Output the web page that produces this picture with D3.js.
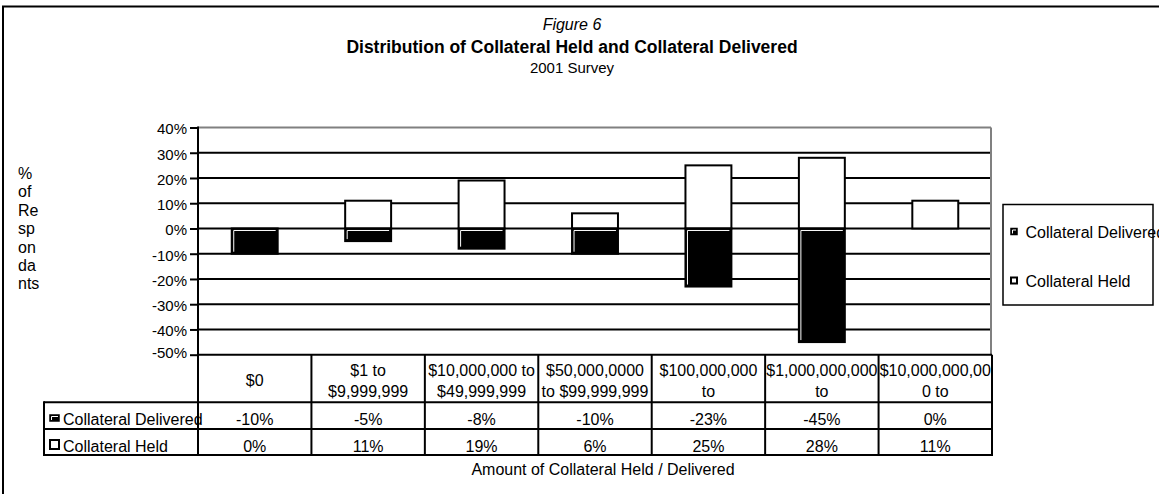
<!DOCTYPE html>
<html>
<head>
<meta charset="utf-8">
<script src="https://cdn.jsdelivr.net/npm/d3@7"></script>
<style>
  html, body { margin: 0; padding: 0; background: #fff; }
  svg { display: block; font-family: "Liberation Sans", Arial, sans-serif; }
</style>
</head>
<body>
<svg id="chart" width="1159" height="494"></svg>
<script>
// Amount bands (header lines as wrapped in the data table)
const categories = ["$0", "$1-$9,999,999", "$10M-$49,999,999", "$50M-$99,999,999",
                    "$100M+", "$1B+", "$10B+"];
const categoryLines = [
  ["$0"],
  ["$1 to", "$9,999,999"],
  ["$10,000,000 to", "$49,999,999"],
  ["$50,000,0000", "to $99,999,999"],
  ["$100,000,000", "to"],
  ["$1,000,000,000", "to"],
  ["$10,000,000,00", "0 to"]
];
const seriesNames = ["Collateral Delivered", "Collateral Held"];
const delivered = [-10, -5, -8, -10, -23, -45, 0];
const held = [0, 11, 19, 6, 25, 28, 11];
const yTicks = [40, 30, 20, 10, 0, -10, -20, -30, -40, -50];
const yTitleLines = ["%", "of", "Re", "sp", "on", "da", "nts"];

const svg = d3.select("#chart");

// outer frame
svg.append("rect")
  .attr("x", 3).attr("y", 6.5).attr("width", 1200).attr("height", 600)
  .attr("fill", "none").attr("stroke", "#000").attr("stroke-width", 2);

// titles
const cx = 572;
svg.append("text").attr("x", cx).attr("y", 30).attr("text-anchor", "middle")
  .attr("font-size", 16).attr("font-style", "italic").text("Figure 6");
svg.append("text").attr("x", cx).attr("y", 53).attr("text-anchor", "middle")
  .attr("font-size", 17.5).attr("font-weight", "bold")
  .text("Distribution of Collateral Held and Collateral Delivered");
svg.append("text").attr("x", cx).attr("y", 73).attr("text-anchor", "middle")
  .attr("font-size", 15).text("2001 Survey");

// scales
const left = 198, right = 992;
const x = d3.scaleBand().domain(categories).range([left, right]);
const y = d3.scaleLinear().domain([-50, 40]).range([354.7, 127.5]);
const barW = x.bandwidth() * 0.405;
const barX = i => x(categories[i]) + (x.bandwidth() - barW) / 2;

// gridlines
svg.append("g").selectAll("line").data(yTicks.filter(t => t > -50)).join("line")
  .attr("x1", left).attr("x2", right - 1)
  .attr("y1", d => y(d)).attr("y2", d => y(d))
  .attr("stroke", d => d === 40 ? "#808080" : "#000")
  .attr("stroke-width", 2);
// right plot edge
svg.append("line").attr("x1", right - 1).attr("x2", right - 1)
  .attr("y1", y(40)).attr("y2", y(-50))
  .attr("stroke", "#808080").attr("stroke-width", 2);

// held bars (positive stack)
svg.append("g").selectAll("rect").data(held).join("rect")
  .attr("x", (d, i) => barX(i))
  .attr("y", d => y(Math.max(d, 0)))
  .attr("width", barW)
  .attr("height", d => Math.abs(y(0) - y(d)))
  .attr("fill", "#fff")
  .attr("stroke", "#000").attr("stroke-width", d => d === 0 ? 0 : 2);

// delivered bars (negative stack)
const dg = svg.append("g");
dg.selectAll("rect").data(delivered).join("rect")
  .attr("x", (d, i) => barX(i))
  .attr("y", y(0))
  .attr("width", barW)
  .attr("height", d => y(d) - y(0))
  .attr("fill", "#000")
  .attr("stroke", "#000").attr("stroke-width", d => d === 0 ? 0 : 2);
dg.selectAll("path")
  .data(delivered.map((d, i) => ({ d, i })).filter(o => o.d !== 0))
  .join("path")
  .attr("d", o => {
    const x0 = barX(o.i);
    return `M${x0 + 2},${y(o.d) - 2}V${y(0) + 2}H${x0 + barW - 2}`;
  })
  .attr("fill", "none").attr("stroke", "#fff").attr("stroke-width", 1);

// y axis
const yAxis = svg.append("g").attr("transform", `translate(${left},0)`)
  .call(d3.axisLeft(y).tickValues(yTicks).tickFormat(d => d + "%")
    .tickSize(8).tickSizeOuter(0).tickPadding(3));
yAxis.select(".domain").remove();
yAxis.selectAll(".tick line").attr("stroke", "#000").attr("stroke-width", 2);
yAxis.selectAll(".tick text").attr("font-size", 15).attr("fill", "#000")
  .attr("font-family", "Liberation Sans, Arial, sans-serif")
  .attr("dy", d => d === -50 ? "0.2em" : "0.42em");
svg.append("line").attr("x1", left).attr("x2", left)
  .attr("y1", y(40) - 1).attr("y2", 455)
  .attr("stroke", "#000").attr("stroke-width", 2);

// y axis title, broken into short lines
svg.append("g").selectAll("text").data(yTitleLines).join("text")
  .attr("x", 18).attr("y", (d, i) => 179 + i * 18.4)
  .attr("font-size", 16).text(d => d);

// data table
const tTop = y(-50), r1 = 402.3, r2 = 429, tBot = 455, legLeft = 44;
const tbl = svg.append("g").attr("stroke", "#000").attr("stroke-width", 2);
tbl.append("line").attr("x1", left).attr("x2", right).attr("y1", tTop).attr("y2", tTop);
[r1, r2, tBot].forEach(yy =>
  tbl.append("line").attr("x1", legLeft).attr("x2", right).attr("y1", yy).attr("y2", yy));
tbl.append("line").attr("x1", legLeft).attr("x2", legLeft).attr("y1", r1 - 1).attr("y2", tBot + 1);
tbl.selectAll(".col").data(categories).join("line")
  .attr("x1", d => x(d) + x.bandwidth()).attr("x2", d => x(d) + x.bandwidth())
  .attr("y1", tTop).attr("y2", tBot + 1);

// header labels
const hdr = svg.append("g").attr("font-size", 16).attr("text-anchor", "middle");
categoryLines.forEach((lines, i) => {
  const mx = x(categories[i]) + x.bandwidth() / 2;
  lines.forEach((t, j) => {
    const yy = lines.length === 1 ? 386 : 375.5 + j * 21.5;
    hdr.append("text").attr("x", mx).attr("y", yy).text(t);
  });
});

// value rows
const rowsG = svg.append("g").attr("font-size", 16).attr("text-anchor", "middle");
[delivered, held].forEach((vals, r) => {
  rowsG.selectAll(".r" + r).data(vals).join("text")
    .attr("x", (d, i) => x(categories[i]) + x.bandwidth() / 2)
    .attr("y", r === 0 ? 424.5 : 451.5)
    .text(d => d + "%");
});

// row keys
function deliveredKey(g, x0, y0, w, h) {
  g.append("rect").attr("x", x0).attr("y", y0).attr("width", w).attr("height", h)
    .attr("fill", "#000").attr("stroke", "#000").attr("stroke-width", 1.5);
  g.append("path").attr("d", `M${x0 + 1.5},${y0 + h - 1}V${y0 + 1.5}H${x0 + w - 1}`)
    .attr("fill", "none").attr("stroke", "#fff").attr("stroke-width", 1);
}
function heldKey(g, x0, y0, w, h) {
  g.append("rect").attr("x", x0).attr("y", y0).attr("width", w).attr("height", h)
    .attr("fill", "#fff").attr("stroke", "#000").attr("stroke-width", 2);
}
const keys = svg.append("g");
deliveredKey(keys, 50, 415, 9, 6);
heldKey(keys, 50, 440, 9, 9);
keys.selectAll("text").data(seriesNames).join("text")
  .attr("x", 63).attr("y", (d, i) => i === 0 ? 424.5 : 451.5)
  .attr("font-size", 16).text(d => d);

// x axis title
svg.append("text").attr("x", 603).attr("y", 475).attr("text-anchor", "middle")
  .attr("font-size", 16).text("Amount of Collateral Held / Delivered");

// legend (its first entry runs past the frame, as in the original layout)
const lg = svg.append("g");
lg.append("rect").attr("x", 1003).attr("y", 204.5).attr("width", 150).attr("height", 100.5)
  .attr("fill", "#fff").attr("stroke", "#000").attr("stroke-width", 1.5);
deliveredKey(lg, 1011, 228.5, 6, 6);
heldKey(lg, 1011, 277.5, 6, 6);
lg.selectAll("text").data(seriesNames).join("text")
  .attr("x", 1025.5).attr("y", (d, i) => i === 0 ? 237.5 : 287)
  .attr("font-size", 16).text(d => d);
</script>
</body>
</html>
